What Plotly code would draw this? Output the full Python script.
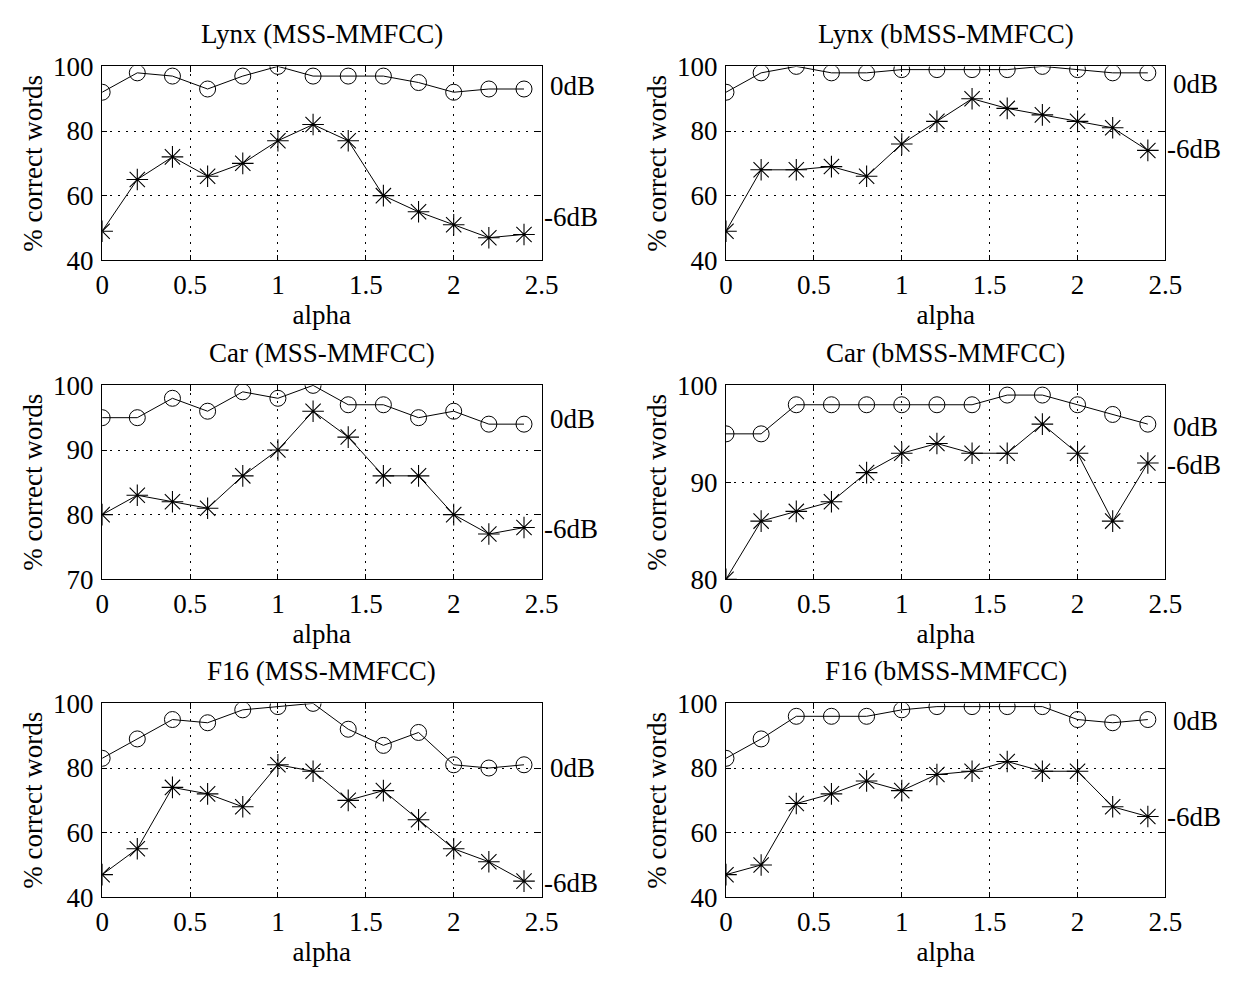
import plotly.graph_objects as go

alpha = [0, 0.2, 0.4, 0.6, 0.8, 1.0, 1.2, 1.4, 1.6, 1.8, 2.0, 2.2, 2.4]

titles = ["Lynx (MSS-MMFCC)", "Lynx (bMSS-MMFCC)",
          "Car (MSS-MMFCC)", "Car (bMSS-MMFCC)",
          "F16 (MSS-MMFCC)", "F16 (bMSS-MMFCC)"]

lynx_mss_0db = [92, 98, 97, 93, 97, 100, 97, 97, 97, 95, 92, 93, 93]
lynx_mss_6db = [49, 65, 72, 66, 70, 77, 82, 77, 60, 55, 51, 47, 48]
lynx_bmss_0db = [92, 98, 100, 98, 98, 99, 99, 99, 99, 100, 99, 98, 98]
lynx_bmss_6db = [49, 68, 68, 69, 66, 76, 83, 90, 87, 85, 83, 81, 74]
car_mss_0db = [95, 95, 98, 96, 99, 98, 100, 97, 97, 95, 96, 94, 94]
car_mss_6db = [80, 83, 82, 81, 86, 90, 96, 92, 86, 86, 80, 77, 78]
car_bmss_0db = [95, 95, 98, 98, 98, 98, 98, 98, 99, 99, 98, 97, 96]
car_bmss_6db = [80, 86, 87, 88, 91, 93, 94, 93, 93, 96, 93, 86, 92]
f16_mss_0db = [83, 89, 95, 94, 98, 99, 100, 92, 87, 91, 81, 80, 81]
f16_mss_6db = [47, 55, 74, 72, 68, 81, 79, 70, 73, 64, 55, 51, 45]
f16_bmss_0db = [83, 89, 96, 96, 96, 98, 99, 99, 99, 99, 95, 94, 95]
f16_bmss_6db = [47, 50, 69, 72, 76, 73, 78, 79, 82, 79, 79, 68, 65]

series_0db = [lynx_mss_0db, lynx_bmss_0db, car_mss_0db, car_bmss_0db, f16_mss_0db, f16_bmss_0db]
series_6db = [lynx_mss_6db, lynx_bmss_6db, car_mss_6db, car_bmss_6db, f16_mss_6db, f16_bmss_6db]

y_ranges = [[40, 100], [40, 100], [70, 100], [80, 100], [40, 100], [40, 100]]
y_ticks = [[40, 60, 80, 100], [40, 60, 80, 100], [70, 80, 90, 100],
           [80, 90, 100], [40, 60, 80, 100], [40, 60, 80, 100]]
x_ticks = [0, 0.5, 1, 1.5, 2, 2.5]
x_ticklabels = ["0", "0.5", "1", "1.5", "2", "2.5"]

# right-hand series labels (y position in data units)
label_0db_y = [94, 94.5, 94.75, 95.7, 80, 94.7]
label_6db_y = [53.5, 74.5, 77.75, 91.8, 44.5, 64.7]

W, H = 1255, 985
col_px = [(97, 545), (733, 1181)]
row_px = [(53, 253), (382, 582), (710, 910)]

FONT = "Liberation Serif, Times New Roman, serif"
FS = 27

fig = go.Figure()
annotations = []

for i in range(6):
    r, c = divmod(i, 2)
    n = i + 1
    xa = "x" if n == 1 else f"x{n}"
    ya = "y" if n == 1 else f"y{n}"
    xd = [col_px[c][0] / W, col_px[c][1] / W]
    yd = [1 - row_px[r][1] / H, 1 - row_px[r][0] / H]

    fig.add_trace(go.Scatter(
        x=alpha, y=series_0db[i], mode="lines+markers",
        line=dict(color="black", width=1),
        marker=dict(symbol="circle-open", size=16, color="black", line=dict(width=1)),
        xaxis=xa, yaxis=ya, showlegend=False, name="0dB"))
    fig.add_trace(go.Scatter(
        x=alpha, y=series_6db[i], mode="lines+markers",
        line=dict(color="black", width=1),
        marker=dict(symbol="asterisk-open", size=18, color="black", line=dict(width=1.1)),
        xaxis=xa, yaxis=ya, showlegend=False, name="-6dB"))

    axis_common = dict(
        showline=True, linecolor="black", linewidth=1.3, mirror="ticks",
        ticks="inside", ticklen=5, tickcolor="black",
        showgrid=True, gridcolor="black", gridwidth=1, griddash="2px,6px",
        zeroline=False, tickfont=dict(family=FONT, size=FS, color="black"),
    )
    fig.layout[f"xaxis{'' if n == 1 else n}"] = dict(
        domain=xd, anchor=ya, range=[0, 2.5], tickvals=x_ticks, ticktext=x_ticklabels,
        title=dict(text="alpha", font=dict(family=FONT, size=FS, color="black"), standoff=2),
        ticklabelstandoff=0,
        **axis_common)
    fig.layout[f"yaxis{'' if n == 1 else n}"] = dict(
        domain=yd, anchor=xa, range=y_ranges[i], tickvals=y_ticks[i],
        title=dict(text="% correct words", font=dict(family=FONT, size=FS, color="black"), standoff=2),
        ticklabelstandoff=2,
        **axis_common)

    annotations.append(dict(
        text=titles[i], xref="paper", yref="paper",
        x=(xd[0] + xd[1]) / 2, y=yd[1] + 16 / H, xanchor="center", yanchor="bottom",
        showarrow=False, font=dict(family=FONT, size=FS, color="black")))
    annotations.append(dict(
        text="0dB", xref=f"{xa} domain", yref=ya, x=1, y=label_0db_y[i],
        xanchor="left", yanchor="middle", xshift=6, showarrow=False,
        font=dict(family=FONT, size=FS, color="black")))
    annotations.append(dict(
        text="-6dB", xref=f"{xa} domain", yref=ya, x=1, y=label_6db_y[i],
        xanchor="left", yanchor="middle", xshift=0, showarrow=False,
        font=dict(family=FONT, size=FS, color="black")))

fig.update_layout(
    width=W, height=H, margin=dict(l=0, r=0, t=0, b=0),
    paper_bgcolor="white", plot_bgcolor="white",
    annotations=annotations, showlegend=False,
    font=dict(family=FONT, size=FS, color="black"),
)

fig.write_html("out.html", config={"displayModeBar": False},
               post_script="document.body.style.margin='0';")
